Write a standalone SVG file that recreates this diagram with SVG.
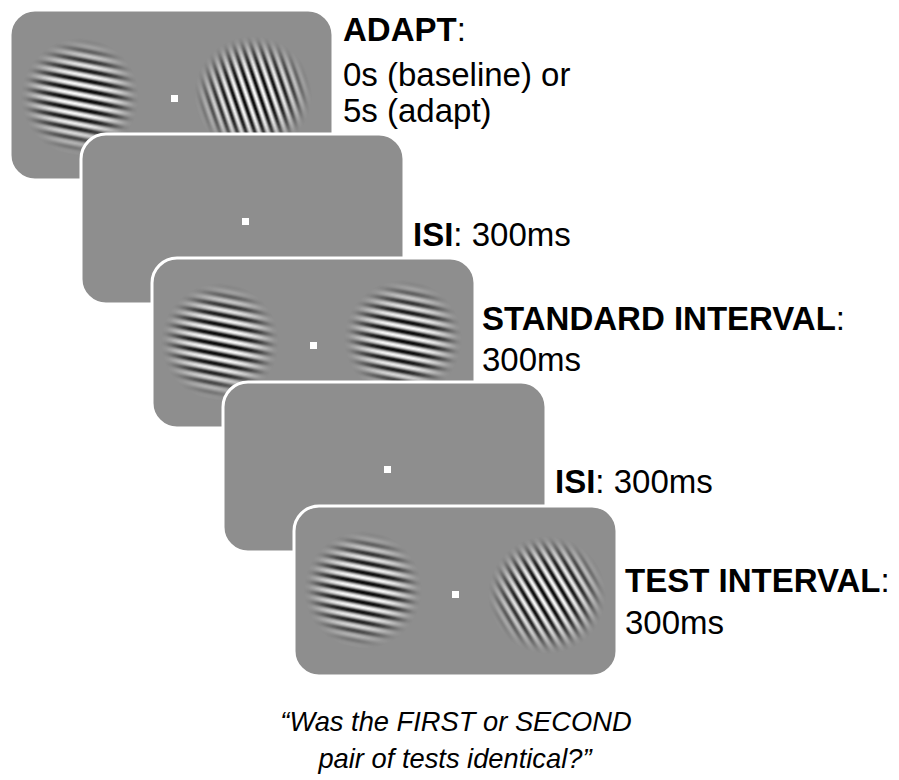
<svg xmlns="http://www.w3.org/2000/svg" xmlns:xlink="http://www.w3.org/1999/xlink" width="899" height="780" viewBox="0 0 899 780">
  <style>
    .screen { fill: #8e8e8e; stroke: #ffffff; stroke-width: 3; }
    .fix { fill: #ffffff; }
    .lbl { font-family: "Liberation Sans", Arial, Helvetica, sans-serif; font-size: 33px; fill: #000000; }
    .b { font-weight: bold; }
    .q { font-family: "Liberation Sans", Arial, Helvetica, sans-serif; font-size: 27.3px; font-style: italic; fill: #000000; text-anchor: middle; }
  </style>
  <defs>
    <!-- sinusoidal luminance profile, repeated along the gradient axis -->
    <linearGradient id="sinH" gradientUnits="userSpaceOnUse" x1="0" y1="0" x2="9.8" y2="0" spreadMethod="repeat" gradientTransform="rotate(-79)">
      <stop offset="0" stop-color="#8e8e8e"/>
      <stop offset="0.125" stop-color="#dcdcdc"/>
      <stop offset="0.25" stop-color="#ffffff"/>
      <stop offset="0.375" stop-color="#dcdcdc"/>
      <stop offset="0.5" stop-color="#8e8e8e"/>
      <stop offset="0.625" stop-color="#2a2a2a"/>
      <stop offset="0.75" stop-color="#000000"/>
      <stop offset="0.875" stop-color="#2a2a2a"/>
      <stop offset="1" stop-color="#8e8e8e"/>
    </linearGradient>
    <linearGradient id="sinA" href="#sinH" xlink:href="#sinH" x2="8.3" gradientTransform="rotate(-19)"/>
    <linearGradient id="sinT" href="#sinH" xlink:href="#sinH" x2="8.6" gradientTransform="rotate(-31)"/>
    <!-- soft circular envelope -->
    <radialGradient id="env">
      <stop offset="0" stop-color="#fff" stop-opacity="1"/>
      <stop offset="0.35" stop-color="#fff" stop-opacity="0.95"/>
      <stop offset="0.55" stop-color="#fff" stop-opacity="0.78"/>
      <stop offset="0.7" stop-color="#fff" stop-opacity="0.52"/>
      <stop offset="0.83" stop-color="#fff" stop-opacity="0.24"/>
      <stop offset="0.92" stop-color="#fff" stop-opacity="0.07"/>
      <stop offset="1" stop-color="#fff" stop-opacity="0"/>
    </radialGradient>
    <mask id="envMask">
      <circle r="59" fill="url(#env)"/>
    </mask>
    <g id="gabH"><circle r="59" fill="url(#sinH)" mask="url(#envMask)"/></g>
    <g id="gabA"><circle r="59" fill="url(#sinA)" mask="url(#envMask)"/></g>
    <g id="gabT"><circle r="59" fill="url(#sinT)" mask="url(#envMask)"/></g>
  </defs>

  <!-- adaptation screen -->
  <g id="adapt">
    <rect class="screen" x="10" y="10" width="323" height="170" rx="25"/>
    <use href="#gabH" xlink:href="#gabH" x="80" y="97"/>
    <use href="#gabA" xlink:href="#gabA" x="253" y="95"/>
    <rect class="fix" x="171" y="95" width="7" height="7"/>
    <text class="lbl" x="343" y="41"><tspan class="b">ADAPT</tspan>:</text>
    <text class="lbl" x="343" y="86">0s (baseline) or</text>
    <text class="lbl" x="343" y="122">5s (adapt)</text>
  </g>

  <!-- first blank interval -->
  <g id="isi1">
    <rect class="screen" x="81" y="134" width="323" height="170" rx="25"/>
    <rect class="fix" x="242" y="218" width="7" height="7"/>
    <text class="lbl" x="413" y="246"><tspan class="b">ISI</tspan>: 300ms</text>
  </g>

  <!-- standard pair -->
  <g id="standard">
    <rect class="screen" x="152" y="258" width="323" height="170" rx="25"/>
    <use href="#gabH" xlink:href="#gabH" x="220" y="342"/>
    <use href="#gabH" xlink:href="#gabH" x="403" y="339"/>
    <rect class="fix" x="310" y="342" width="7" height="7"/>
    <text class="lbl" x="482" y="330"><tspan class="b">STANDARD INTERVAL</tspan>:</text>
    <text class="lbl" x="482" y="371">300ms</text>
  </g>

  <!-- second blank interval -->
  <g id="isi2">
    <rect class="screen" x="223" y="382" width="323" height="170" rx="25"/>
    <rect class="fix" x="384" y="466" width="7" height="7"/>
    <text class="lbl" x="555" y="493"><tspan class="b">ISI</tspan>: 300ms</text>
  </g>

  <!-- test pair -->
  <g id="test">
    <rect class="screen" x="294" y="506" width="323" height="170" rx="25"/>
    <use href="#gabH" xlink:href="#gabH" x="363" y="590"/>
    <use href="#gabT" xlink:href="#gabT" x="547" y="595"/>
    <rect class="fix" x="452" y="591" width="7" height="7"/>
    <text class="lbl" x="625" y="592"><tspan class="b">TEST INTERVAL</tspan>:</text>
    <text class="lbl" x="625" y="634">300ms</text>
  </g>

  <!-- response question -->
  <g id="question">
    <text class="q" x="456" y="731">“Was the FIRST or SECOND</text>
    <text class="q" x="455" y="768">pair of tests identical?”</text>
  </g>
</svg>
